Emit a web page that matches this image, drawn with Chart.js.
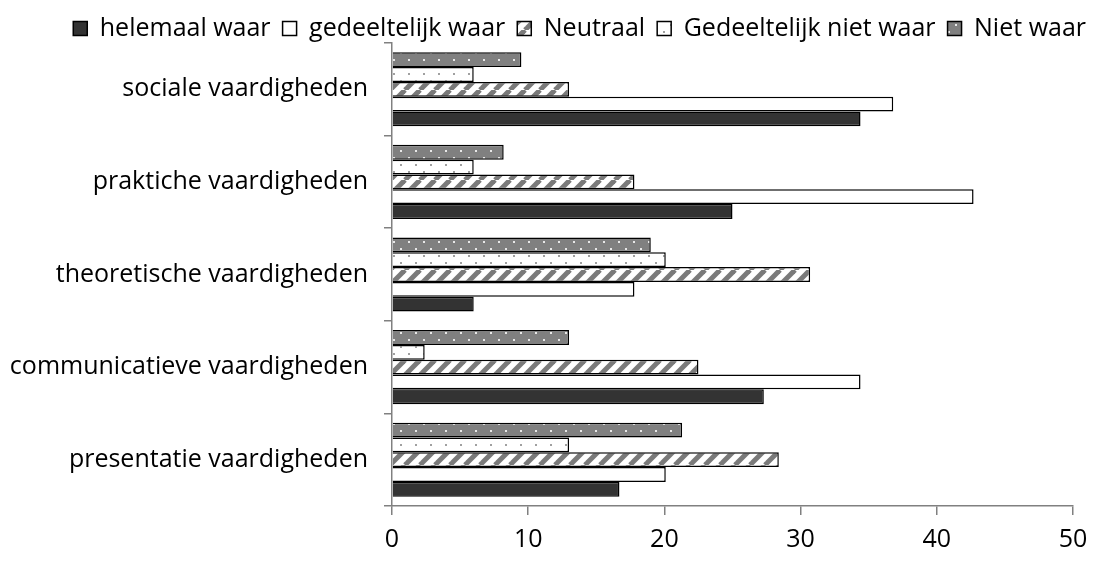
<!DOCTYPE html>
<html>
<head>
<meta charset="utf-8">
<script src="https://cdn.jsdelivr.net/npm/chart.js@4"></script>
<style>
  html, body { margin:0; padding:0; background:#fff; }
  #wrap { width:1098px; height:567px; }
</style>
</head>
<body>
<div id="wrap"><canvas id="chart"></canvas></div>
<script>
// data (top category first)
const categories = ["sociale vaardigheden","praktiche vaardigheden","theoretische vaardigheden","communicatieve vaardigheden","presentatie vaardigheden"];
const helemaalWaar        = [34.4, 25.0,  6.0, 27.3, 16.7];
const gedeeltelijkWaar    = [36.8, 42.7, 17.8, 34.4, 20.1];
const neutraal            = [13.0, 17.8, 30.7, 22.5, 28.4];
const gedeeltelijkNiet    = [ 6.0,  6.0, 20.1,  2.4, 13.0];
const nietWaar            = [ 9.5,  8.2, 19.0, 13.0, 21.3];
const xTicks = [0,10,20,30,40,50];

const FONT = "'Open Sans', sans-serif";
const FS = 25;

/* PATTERNS */
function tile(w, h, draw){
    const c = document.createElement("canvas");
    c.width = w; c.height = h;
    const g = c.getContext("2d");
    draw(g);
    return document.getElementById("chart").getContext("2d").createPattern(c, "repeat");
}
function dots(bg, dot){
    return tile(15, 14, g=>{
        g.fillStyle = bg; g.fillRect(0,0,15,14);
        g.fillStyle = dot;
        g.fillRect(3,3,2,2);
        g.fillRect(10,10,2,2);
    });
}
const hatch = tile(15, 15, g=>{
    g.fillStyle = "#fff"; g.fillRect(0,0,15,15);
    g.strokeStyle = "#7a7a7a"; g.lineWidth = 5;
    [-15,0,15].forEach(o=>{
        g.beginPath(); g.moveTo(o,15); g.lineTo(o+15,0); g.stroke();
    });
});

// dataset order reversed so "helemaal waar" sits at the bottom of each group
const datasets = [
    {label:"Niet waar", data:nietWaar, backgroundColor:dots("#808080","#e8e8e8")},
    {label:"Gedeeltelijk niet waar", data:gedeeltelijkNiet, backgroundColor:dots("#ffffff","#a0a0a0")},
    {label:"Neutraal", data:neutraal, backgroundColor:hatch},
    {label:"gedeeltelijk waar", data:gedeeltelijkWaar, backgroundColor:"#ffffff"},
    {label:"helemaal waar", data:helemaalWaar, backgroundColor:"#333333"}
].map(d=>Object.assign(d,{borderColor:"#000",borderWidth:1.5,categoryPercentage:0.8,barPercentage:1}));

new Chart(document.getElementById("chart"), {
    type:"bar",
    data:{ labels:categories, datasets:datasets },
    options:{
        indexAxis:"y",
        responsive:true,
        maintainAspectRatio:false,
        animation:false,
        layout:{ padding:{left:0, right:0, top:4, bottom:2} },
        plugins:{
            legend:{
                position:"top",
                align:"end",
                reverse:true,
                maxHeight:39,
                labels:{
                    color:"#000",
                    font:{family:FONT, size:FS},
                    boxWidth:14, boxHeight:14,
                    padding:12,
                    useBorderRadius:false
                }
            },
            tooltip:{enabled:false}
        },
        scales:{
            x:{
                min:0, max:50,
                afterBuildTicks: s => { s.ticks = xTicks.map(v=>({value:v})); },
                border:{color:"#808080", width:1.5},
                grid:{drawOnChartArea:false, drawTicks:true, tickLength:9, color:"#808080", lineWidth:1.5},
                ticks:{color:"#000", font:{family:FONT, size:FS}, padding:10}
            },
            y:{
                afterFit: s => { s.width = 392; },
                border:{color:"#808080", width:1.5},
                grid:{drawOnChartArea:false, drawTicks:true, tickLength:8, color:"#808080", lineWidth:1.5, offset:true},
                ticks:{color:"#000", font:{family:FONT, size:FS}, padding:16}
            },
            // empty spacer on the right so the plot ends where the reference does
            spacer:{
                type:"linear", axis:"y", position:"right",
                afterFit: s => { s.width = 25; },
                border:{display:false},
                grid:{display:false},
                ticks:{display:false}
            }
        }
    }
});
</script>
</body>
</html>
